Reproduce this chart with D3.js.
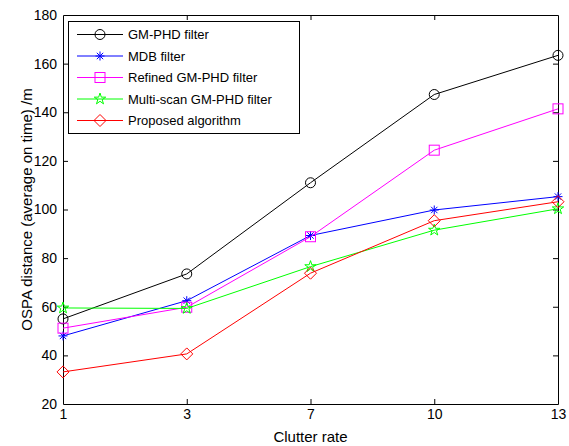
<!DOCTYPE html>
<html>
<head>
<meta charset="utf-8">
<script src="https://cdn.jsdelivr.net/npm/d3@7"></script>
<style>
  html, body { margin: 0; padding: 0; background: #fff; }
  svg { display: block; font-family: "Liberation Sans", Arial, Helvetica, sans-serif; }
</style>
</head>
<body>
<svg id="chart" width="569" height="446"></svg>
<script>
// Clutter rates on the x axis
const categories = ["1", "3", "7", "10", "13"];
const yTicks = [20, 40, 60, 80, 100, 120, 140, 160, 180];

// Average OSPA distance per filter
const gmphd      = [55, 73.5, 111, 147.3, 163.4];
const mdb        = [48, 62.5, 89.3, 99.8, 105.3];
const refined    = [51.2, 59.8, 88.8, 124.4, 141.4];
const multiscan  = [59.5, 59.3, 76.5, 91.5, 100.3];
const proposed   = [33.2, 40.6, 73.8, 95.4, 103.2];

const seriesNames  = ["GM-PHD filter", "MDB filter", "Refined GM-PHD filter", "Multi-scan GM-PHD filter", "Proposed algorithm"];
const seriesColors = ["#000000", "#0000ff", "#ff00ff", "#00ff00", "#ff0000"];
const seriesMarks  = ["circle", "asterisk", "square", "pentagram", "diamond"];
const seriesValues = [gmphd, mdb, refined, multiscan, proposed];

const svg = d3.select("#chart");
const plotL = 63, plotR = 558, plotT = 15, plotB = 404;

const x = d3.scalePoint().domain(categories).range([plotL, plotR]);
const y = d3.scaleLinear().domain([20, 180]).range([plotB, plotT]);

// Axes box with inward ticks on all four sides
const axisFont = 14;
const gx = svg.append("g").attr("transform", `translate(0,${plotB})`)
  .call(d3.axisBottom(x).tickSizeInner(-5).tickSizeOuter(0).tickPadding(5));
const gxTop = svg.append("g").attr("transform", `translate(0,${plotT})`)
  .call(d3.axisTop(x).tickSizeInner(-5).tickSizeOuter(0).tickFormat(""));
const gy = svg.append("g").attr("transform", `translate(${plotL},0)`)
  .call(d3.axisLeft(y).tickValues(yTicks).tickSizeInner(-5).tickSizeOuter(0).tickPadding(6));
const gyRight = svg.append("g").attr("transform", `translate(${plotR},0)`)
  .call(d3.axisRight(y).tickValues(yTicks).tickSizeInner(-5).tickSizeOuter(0).tickFormat(""));

[gx, gxTop, gy, gyRight].forEach(g => {
  g.select(".domain").attr("stroke", "#000").attr("stroke-width", 1);
  g.selectAll(".tick line").attr("stroke", "#000");
  g.selectAll("text").attr("fill", "#000").style("font-size", axisFont + "px")
    .style("font-family", '"Liberation Sans", Arial, sans-serif');
});
gx.selectAll(".tick").filter(d => d === categories[0] || d === categories[categories.length - 1])
  .select("line").remove();
gxTop.selectAll(".tick").filter(d => d === categories[0] || d === categories[categories.length - 1])
  .select("line").remove();
gy.selectAll(".tick").filter(d => d === 20 || d === 180).select("line").remove();
gyRight.selectAll(".tick").filter(d => d === 20 || d === 180).select("line").remove();

// Axis titles
svg.append("text")
  .attr("x", (plotL + plotR) / 2).attr("y", 442)
  .attr("text-anchor", "middle").style("font-size", "15px")
  .text("Clutter rate");
svg.append("text")
  .attr("transform", `translate(32,${(plotT + plotB) / 2}) rotate(-90)`)
  .attr("text-anchor", "middle").style("font-size", "15px")
  .text("OSPA distance (average on time) /m");

// Marker drawing
function drawMarker(g, type, cx, cy, color) {
  if (type === "circle") {
    g.append("circle").attr("cx", cx).attr("cy", cy).attr("r", 5)
      .attr("fill", "none").attr("stroke", color);
  } else if (type === "square") {
    g.append("rect").attr("x", cx - 5).attr("y", cy - 5).attr("width", 10).attr("height", 10)
      .attr("fill", "none").attr("stroke", color);
  } else if (type === "diamond") {
    const s = 6;
    g.append("path").attr("d", `M${cx},${cy - s}L${cx + s},${cy}L${cx},${cy + s}L${cx - s},${cy}Z`)
      .attr("fill", "none").attr("stroke", color);
  } else if (type === "asterisk") {
    const s = 4.5, d = 3.2;
    g.append("path")
      .attr("d", `M${cx - s},${cy}L${cx + s},${cy}M${cx},${cy - s}L${cx},${cy + s}` +
                 `M${cx - d},${cy - d}L${cx + d},${cy + d}M${cx - d},${cy + d}L${cx + d},${cy - d}`)
      .attr("fill", "none").attr("stroke", color);
  } else if (type === "pentagram") {
    const R = 6, r = R * 0.382;
    const pts = d3.range(10).map(i => {
      const a = -Math.PI / 2 + i * Math.PI / 5;
      const rr = i % 2 === 0 ? R : r;
      return [cx + rr * Math.cos(a), cy + rr * Math.sin(a)];
    });
    g.append("path").attr("d", "M" + pts.map(p => p.join(",")).join("L") + "Z")
      .attr("fill", "none").attr("stroke", color);
  }
}

// Series lines and markers
const line = d3.line().x((d, i) => x(categories[i])).y(d => y(d));
seriesValues.forEach((vals, k) => {
  const g = svg.append("g");
  g.append("path").datum(vals).attr("d", line)
    .attr("fill", "none").attr("stroke", seriesColors[k]).attr("stroke-width", 1);
  vals.forEach((v, i) => drawMarker(g, seriesMarks[k], x(categories[i]), y(v), seriesColors[k]));
});

// Legend
const lg = svg.append("g");
lg.append("rect").attr("x", 68.5).attr("y", 21.5).attr("width", 231).attr("height", 112)
  .attr("fill", "#fff").attr("stroke", "#000");
seriesNames.forEach((name, k) => {
  const ly = 34.5 + k * 21.5;
  lg.append("line").attr("x1", 77).attr("x2", 123).attr("y1", ly).attr("y2", ly)
    .attr("stroke", seriesColors[k]);
  drawMarker(lg, seriesMarks[k], 100, ly, seriesColors[k]);
  lg.append("text").attr("x", 128).attr("y", ly).attr("dy", "0.35em")
    .style("font-size", "13px").text(name);
});
</script>
</body>
</html>
